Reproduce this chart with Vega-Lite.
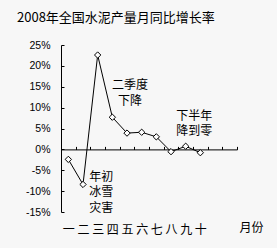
{
  "$schema": "https://vega.github.io/schema/vega-lite/v6.json",
  "width": 176,
  "height": 167,
  "autosize": {"type": "none"},
  "padding": {"left": 61, "top": 45, "right": 40, "bottom": 36},
  "background": "#f7f7f7",
  "config": {"view": {"stroke": null}, "font": "Noto Sans CJK SC"},
  "title": {
    "text": "2008年全国水泥产量月同比增长率",
    "anchor": "start",
    "frame": "group",
    "dx": -44,
    "offset": 20,
    "dy": 15,
    "baseline": "alphabetic",
    "fontSize": 13,
    "fontWeight": "normal",
    "font": "Noto Sans CJK SC",
    "color": "black"
  },
  "datasets": {
    "growth": [
      {"month": 1, "value": -2.4},
      {"month": 2, "value": -8.4},
      {"month": 3, "value": 22.6},
      {"month": 4, "value": 7.7},
      {"month": 5, "value": 3.9},
      {"month": 6, "value": 4.1},
      {"month": 7, "value": 3.0},
      {"month": 8, "value": -0.55},
      {"month": 9, "value": 0.75},
      {"month": 10, "value": -0.8}
    ]
  },
  "layer": [
    {
      "data": {"name": "growth"},
      "mark": {
        "type": "line", "color": "black", "strokeWidth": 1,
        "point": {"shape": "diamond", "filled": true, "fill": "white", "stroke": "black", "strokeWidth": 1, "size": 40}
      },
      "encoding": {
        "x": {
          "field": "month", "type": "ordinal",
          "scale": {"domain": [1,2,3,4,5,6,7,8,9,10,11,12], "paddingInner": 0, "paddingOuter": 0},
          "axis": {
            "orient": "bottom", "offset": -62.6,
            "domain": true, "domainColor": "black", "domainWidth": 1,
            "ticks": true, "tickColor": "black", "tickSize": -3, "tickBand": "extent", "tickWidth": 1,
            "labelAngle": 0,
            "labelExpr": "['','一','二','三','四','五','六','七','八','九','十','',''][datum.value]",
            "labelFontSize": 12, "labelColor": "black", "labelPadding": 78, "labelFont": "Noto Sans CJK SC",
            "title": "月份", "titleFontSize": 12, "titleFontWeight": "normal", "titleColor": "black",
            "titleX": 190, "titleY": 77.6, "titleAlign": "center", "titleBaseline": "middle", "titleFont": "Noto Sans CJK SC"
          }
        },
        "y": {
          "field": "value", "type": "quantitative",
          "scale": {"domain": [-15, 25], "nice": false, "zero": false},
          "axis": {
            "values": [-15,-10,-5,0,5,10,15,20,25],
            "tickCount": 20,
            "labelExpr": "datum.value + '%'",
            "labelOverlap": false,
            "grid": false, "title": null,
            "domainColor": "black", "tickColor": "black", "tickSize": -3,
            "labelFontSize": 10.5, "labelColor": "black", "labelPadding": 14, "labelFont": "Liberation Sans"
          }
        }
      }
    },
    {
      "data": {"values": [{"month": 5, "value": 15.3, "label": ["二季度", "下降"]}]},
      "mark": {"type": "text", "fontSize": 12, "lineHeight": 15.5, "align": "center", "baseline": "middle", "dx": 3, "color": "black"},
      "encoding": {
        "x": {"field": "month", "type": "ordinal"},
        "y": {"field": "value", "type": "quantitative"},
        "text": {"field": "label"}
      }
    },
    {
      "data": {"values": [{"month": 3, "value": -6.5, "label": ["年初", "冰雪", "灾害"]}]},
      "mark": {"type": "text", "fontSize": 12, "lineHeight": 15.5, "align": "center", "baseline": "middle", "dx": 3.5, "color": "black"},
      "encoding": {
        "x": {"field": "month", "type": "ordinal"},
        "y": {"field": "value", "type": "quantitative"},
        "text": {"field": "label"}
      }
    },
    {
      "data": {"values": [{"month": 9, "value": 8.0, "label": ["下半年", "降到零"]}]},
      "mark": {"type": "text", "fontSize": 12, "lineHeight": 15.5, "align": "center", "baseline": "middle", "dx": 8.5, "color": "black"},
      "encoding": {
        "x": {"field": "month", "type": "ordinal"},
        "y": {"field": "value", "type": "quantitative"},
        "text": {"field": "label"}
      }
    }
  ]
}
